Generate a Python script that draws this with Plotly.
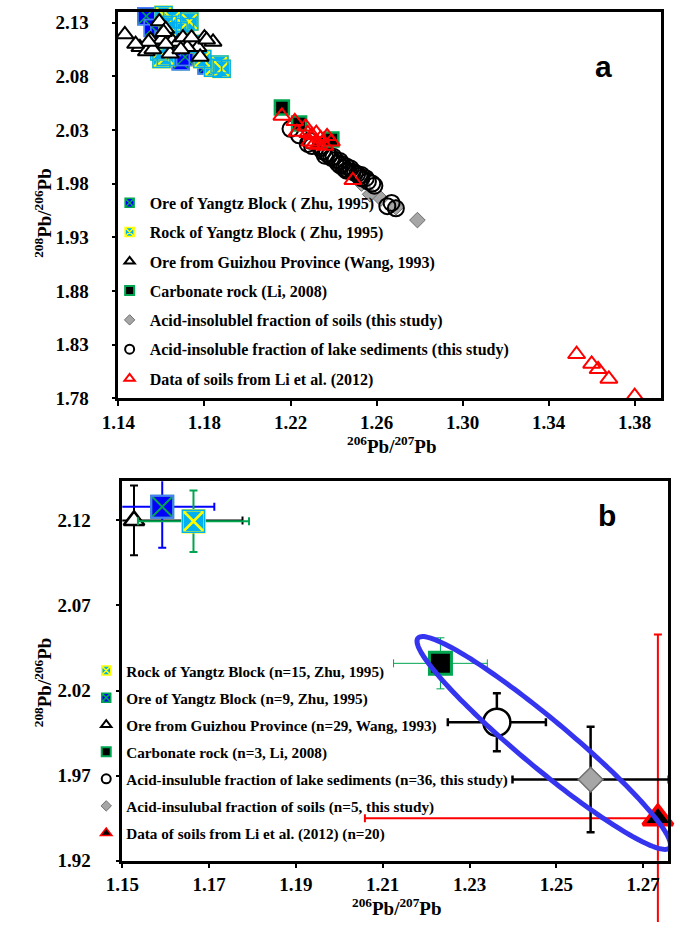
import numpy as np
import plotly.graph_objects as go

W, H = 680, 933

# ---------------- Panel a data ----------------
ore_yz_x = [1.153, 1.156, 1.159, 1.165, 1.169, 1.171, 1.181, 1.185, 1.161]
ore_yz_y = [2.136, 2.125, 2.119, 2.107, 2.094, 2.098, 2.090, 2.088, 2.114]
rock_yz_x = [1.161, 1.165, 1.171, 1.173, 1.168, 1.160, 1.162, 1.184, 1.187, 1.188, 1.163, 1.169, 1.175, 1.179, 1.159]
rock_yz_y = [2.137, 2.133, 2.126, 2.131, 2.122, 2.096, 2.098, 2.088, 2.091, 2.087, 2.128, 2.114, 2.110, 2.096, 2.103]
gz_x = [1.131, 1.143, 1.150, 1.153, 1.155, 1.159, 1.160, 1.162, 1.164, 1.165, 1.168, 1.175, 1.177,
        1.180, 1.184, 1.178, 1.156, 1.161, 1.172, 1.181, 1.170, 1.154, 1.162, 1.148, 1.169, 1.174]
gz_y = [2.121, 2.119, 2.107, 2.103, 2.114, 2.131, 2.114, 2.124, 2.101, 2.113, 2.112, 2.112, 2.107,
        2.116, 2.112, 2.098, 2.105, 2.121, 2.107, 2.114, 2.116, 2.112, 2.110, 2.110, 2.105, 2.116]
carb_x = [1.216, 1.224, 1.239]
carb_y = [2.051, 2.036, 2.021]
soil_x = [1.253, 1.257, 1.262, 1.269, 1.279]
soil_y = [1.980, 1.970, 1.966, 1.958, 1.946]
lake_x = [1.220, 1.224, 1.228, 1.230, 1.234, 1.235, 1.237, 1.238, 1.239, 1.240, 1.241, 1.242,
          1.243, 1.243, 1.244, 1.245, 1.246, 1.246, 1.247, 1.248, 1.249, 1.250, 1.251, 1.252,
          1.253, 1.253, 1.255, 1.256, 1.258, 1.259, 1.265, 1.269, 1.267, 1.234, 1.229, 1.236]
lake_y = [2.031, 2.025, 2.017, 2.015, 2.013, 2.010, 2.008, 2.006, 2.004, 2.005, 2.002, 1.999,
          2.001, 1.997, 1.998, 1.994, 1.996, 1.992, 1.992, 1.994, 1.991, 1.990, 1.989, 1.987,
          1.988, 1.985, 1.985, 1.982, 1.980, 1.978, 1.959, 1.957, 1.962, 2.015, 2.020, 2.006]
li_x = [1.216, 1.222, 1.223, 1.228, 1.230, 1.232, 1.229, 1.231, 1.233, 1.234, 1.236, 1.239,
        1.249, 1.227, 1.237, 1.353, 1.360, 1.363, 1.368, 1.380]
li_y = [2.043, 2.038, 2.028, 2.027, 2.025, 2.027, 2.019, 2.017, 2.016, 2.022, 2.015, 2.019,
        1.983, 2.033, 2.024, 1.821, 1.812, 1.807, 1.798, 1.782]

names_a = ["Ore of Yangtz Block ( Zhu, 1995)",
           "Rock of Yangtz Block ( Zhu, 1995)",
           "Ore from Guizhou Province (Wang, 1993)",
           "Carbonate rock (Li, 2008)",
           "Acid-insolublel fraction of soils (this study)",
           "Acid-insoluble fraction of lake sediments (this study)",
           "Data of soils from Li et al. (2012)"]
a_xticks = [1.14, 1.18, 1.22, 1.26, 1.30, 1.34, 1.38]
a_yticks = [1.78, 1.83, 1.88, 1.93, 1.98, 2.03, 2.08, 2.13]

# ---------------- Panel b data ----------------
names_b = ["Rock of Yangtz Block (n=15, Zhu, 1995)",
           "Ore of Yangtz Block (n=9, Zhu, 1995)",
           "Ore from Guizhou Province (n=29, Wang, 1993)",
           "Carbonate rock (n=3, Li, 2008)",
           "Acid-insuluble fraction of lake sediments (n=36, this study)",
           "Acid-insulubal fraction of soils (n=5, this study)",
           "Data of soils from Li et al. (2012) (n=20)"]
b_x = [1.1664, 1.1592, 1.1527, 1.2233, 1.2363, 1.2579, 1.2734]
b_y = [2.1195, 2.1280, 2.1200, 2.0360, 2.0014, 1.9677, 1.9450]
b_ex = [0.0128, 0.0120, 0.0250, 0.0108, 0.0113, 0.0180, 0.0675]
b_ey = [0.0180, 0.0240, 0.0205, 0.0150, 0.0170, 0.0310, 0.1080]
b_xticks = [1.15, 1.17, 1.19, 1.21, 1.23, 1.25, 1.27]
b_yticks = [1.92, 1.97, 2.02, 2.07, 2.12]

# ellipse (centre in data units, semi-axes in px, tilt in degrees)
ell_cx, ell_cy = 1.2471, 1.9892
ell_a, ell_b, ell_ang = 167, 24.5, 39.4

# ---------------- layout geometry ----------------
ax_a = dict(x=[104, 660], y=[12, 403], xr=[1.14, 1.392], yr=[1.78, 2.14])
ax_b = dict(x=[108, 668], y=[487, 871], xr=[1.15, 1.2758], yr=[1.92, 2.143])

BLUE = "#0000ff"; LBLUE = "#4d7cff"; GREEN = "#00a550"; CYAN = "#00b0f0"; YEL = "#ffff00"
GREY = "#a6a6a6"; DGREY = "#6f6f6f"; RED = "#ff0000"
SERIF = "Liberation Serif, Times New Roman, serif"

fig = go.Figure()

def legend_entry(name, marker, legend, g):
    fig.add_trace(go.Scatter(x=[None], y=[None], mode="markers", name="<b>%s</b>" % name,
                             marker=marker, legend=legend, legendgroup=g, showlegend=True,
                             xaxis="x" if legend == "legend" else "x2",
                             yaxis="y" if legend == "legend" else "y2"))

la = [dict(symbol="square-x", size=9, color=BLUE, line=dict(color=GREEN, width=1.5)),
      dict(symbol="square-x", size=9, color=CYAN, line=dict(color=YEL, width=1.5)),
      dict(symbol="triangle-up-open", size=9, color="black", line=dict(color="black", width=2)),
      dict(symbol="square", size=9, color="black", line=dict(color=GREEN, width=2)),
      dict(symbol="diamond", size=8, color=GREY, line=dict(color=DGREY, width=1)),
      dict(symbol="circle-open", size=9, color="black", line=dict(color="black", width=2)),
      dict(symbol="triangle-up-open", size=9, color=RED, line=dict(color=RED, width=2))]
for i, (n, m) in enumerate(zip(names_a, la)):
    legend_entry(n, m, "legend", "a%d" % i)

lb = [la[1], la[0], la[2], la[3],
      dict(symbol="circle-open", size=9, color="black", line=dict(color="black", width=2)),
      la[4],
      dict(symbol="triangle-up", size=10, color="black", line=dict(color=RED, width=1.5))]
for i, (n, m) in enumerate(zip(names_b, lb)):
    legend_entry(n, m, "legend2", "b%d" % i)

def sc(x, y, marker, xa="x", ya="y", **kw):
    fig.add_trace(go.Scatter(x=x, y=y, mode="markers", marker=marker, showlegend=False,
                             xaxis=xa, yaxis=ya, cliponaxis=False, hoverinfo="skip", **kw))

# ---------------- Panel a traces ----------------
sc(ore_yz_x, ore_yz_y, dict(symbol="square-x", size=17, color=BLUE, line=dict(color=GREEN, width=1.5)))
sc(ore_yz_x, ore_yz_y, dict(symbol="square-open", size=17, color=LBLUE, line=dict(color=LBLUE, width=1.5)))
sc(rock_yz_x, rock_yz_y, dict(symbol="square-x", size=17, color=CYAN, line=dict(color=YEL, width=2)))
sc(rock_yz_x, rock_yz_y, dict(symbol="square-open", size=17, color=CYAN, line=dict(color=CYAN, width=1.5)))
sc(gz_x, gz_y, dict(symbol="triangle-up", size=15, color="white", line=dict(color="black", width=2)))
sc(soil_x, soil_y, dict(symbol="diamond", size=12, color=GREY, line=dict(color=DGREY, width=1)))
sc(lake_x, lake_y, dict(symbol="circle-open", size=16, color="black", line=dict(color="black", width=2)))
sc(carb_x, carb_y, dict(symbol="square", size=14, color="black", line=dict(color=GREEN, width=2.5)))
sc(li_x, li_y, dict(symbol="triangle-up-open", size=15, color=RED, line=dict(color=RED, width=2)))

# ---------------- Panel b traces ----------------
def eb(arr, color, th):
    return dict(type="data", array=[arr], color=color, thickness=th, width=4, visible=True)

styles_b = [  # rock, ore, gz, carb, lake, soil, li
    (dict(symbol="square-x", size=22, color=CYAN, line=dict(color=YEL, width=2.5)), GREEN, 2),
    (dict(symbol="square-x", size=22, color=BLUE, line=dict(color=GREEN, width=2)), BLUE, 2),
    (dict(symbol="triangle-up", size=18, color="white", line=dict(color="black", width=2.5)), "black", 2),
    (dict(symbol="square", size=22, color="black", line=dict(color=GREEN, width=3)), GREEN, 1),
    (dict(symbol="circle", size=27, color="white", line=dict(color="black", width=2.5)), "black", 2.5),
    (dict(symbol="diamond", size=19, color=GREY, line=dict(color=DGREY, width=1.5)), "black", 2.5),
    (dict(symbol="triangle-up", size=26, color="black", line=dict(color=RED, width=3.5)), RED, 2),
]
order_b = [6, 5, 4, 3, 2, 1, 0]
for i in order_b:
    m, c, th = styles_b[i]
    sc([b_x[i]], [b_y[i]], m, xa="x2", ya="y2",
       error_x=eb(b_ex[i], c, th), error_y=eb(b_ey[i], c, th))
    if i == 1:
        sc([b_x[i]], [b_y[i]], dict(symbol="square-open", size=22, color=LBLUE,
                                    line=dict(color=LBLUE, width=2)), xa="x2", ya="y2")
    if i == 0:
        sc([b_x[i]], [b_y[i]], dict(symbol="square-open", size=22, color=CYAN,
                                    line=dict(color="#7fd8ff", width=1.5)), xa="x2", ya="y2")

# empty traces so the tick-only overlay axes exist
fig.add_trace(go.Scatter(x=[None], y=[None], xaxis="x", yaxis="y3", showlegend=False, hoverinfo="skip"))
fig.add_trace(go.Scatter(x=[None], y=[None], xaxis="x2", yaxis="y4", showlegend=False, hoverinfo="skip"))

# ellipse path
pxx = (ax_b["x"][1] - ax_b["x"][0]) / (ax_b["xr"][1] - ax_b["xr"][0])
pxy = (ax_b["y"][1] - ax_b["y"][0]) / (ax_b["yr"][1] - ax_b["yr"][0])
t = np.linspace(0, 2 * np.pi, 181)
th = np.deg2rad(-ell_ang)
dx = ell_a * np.cos(t) * np.cos(th) - ell_b * np.sin(t) * np.sin(th)
dy = ell_a * np.cos(t) * np.sin(th) + ell_b * np.sin(t) * np.cos(th)
ex = ell_cx + dx / pxx
ey = ell_cy + dy / pxy
path = "M " + " L ".join("%.5f,%.5f" % (a, b) for a, b in zip(ex, ey)) + " Z"

# the Li et al. lower error bar runs on below the x axis (as in the original figure)
li_low = b_y[6] - b_ey[6]
li_low_px = ax_b["y"][1] + (ax_b["yr"][0] - li_low) * pxy
li_low_paper = max(0.0, 1 - li_low_px / H)

TF = dict(family=SERIF, size=19, color="black")

def axis(dom, rng, ticks, anchor):
    return dict(domain=dom, range=rng, tickmode="array", tickvals=ticks,
                ticktext=["<b>%.2f</b>" % v for v in ticks], anchor=anchor,
                showline=True, linecolor="black", linewidth=2.5, mirror=True,
                ticks="outside", ticklen=5, tickwidth=2, tickcolor="black",
                showgrid=False, zeroline=False, tickfont=TF, fixedrange=True)

def yaxis_far(dom, rng, ticks, anchor, gap):
    d = axis(dom, rng, ticks, anchor)
    d.update(ticklen=gap, tickcolor="rgba(0,0,0,0)")
    return d

def tick_overlay(over, rng, ticks, anchor):
    return dict(overlaying=over, anchor=anchor, range=rng, tickmode="array", tickvals=ticks,
                ticks="outside", ticklen=5, tickwidth=2, tickcolor="black", side="left",
                showticklabels=False, showline=False, showgrid=False, zeroline=False,
                fixedrange=True)

def xd(a):
    return [a["x"][0] / W, a["x"][1] / W]

def yd(a):
    return [1 - a["y"][1] / H, 1 - a["y"][0] / H]

fig.update_layout(
    width=W, height=H, margin=dict(l=0, r=0, t=0, b=0),
    paper_bgcolor="white", plot_bgcolor="white",
    xaxis=axis(xd(ax_a), ax_a["xr"], a_xticks, "y"),
    yaxis=yaxis_far(yd(ax_a), ax_a["yr"], a_yticks, "x", 23),
    xaxis2=axis(xd(ax_b), ax_b["xr"], b_xticks, "y2"),
    yaxis2=yaxis_far(yd(ax_b), ax_b["yr"], b_yticks, "x2", 25),
    yaxis3=tick_overlay("y", ax_a["yr"], a_yticks, "x"),
    yaxis4=tick_overlay("y2", ax_b["yr"], b_yticks, "x2"),
    legend=dict(x=95 / W, y=1 - 188 / H, xanchor="left", yanchor="top",
                bgcolor="rgba(0,0,0,0)", font=dict(family=SERIF, size=16, color="black"),
                traceorder="grouped", tracegroupgap=5.5, itemwidth=30),
    legend2=dict(x=71 / W, y=1 - 662 / H, xanchor="left", yanchor="top",
                 bgcolor="rgba(0,0,0,0)", font=dict(family=SERIF, size=15.2, color="black"),
                 traceorder="grouped", tracegroupgap=4.3, itemwidth=30),
    shapes=[dict(type="path", path=path, xref="x2", yref="y2",
                 line=dict(color="#3535f0", width=5), layer="above"),
            dict(type="line", xref="x2", yref="paper", x0=b_x[6], x1=b_x[6],
                 y0=yd(ax_b)[0], y1=li_low_paper, line=dict(color=RED, width=2), layer="below")],
    showlegend=True,
)

TT = dict(family=SERIF, size=19, color="black")
ann = [
    dict(text="<b><sup>206</sup>Pb/<sup>207</sup>Pb</b>", x=385 / W, y=1 - 450 / H),
    dict(text="<b><sup>206</sup>Pb/<sup>207</sup>Pb</b>", x=390 / W, y=1 - 918 / H),
    dict(text="<b><sup>208</sup>Pb/<sup>206</sup>Pb</b>", x=27 / W, y=1 - 215 / H, textangle=-90),
    dict(text="<b><sup>208</sup>Pb/<sup>206</sup>Pb</b>", x=27 / W, y=1 - 690 / H, textangle=-90),
]
for a in ann:
    fig.add_annotation(xref="paper", yref="paper", showarrow=False, font=TT,
                       xanchor="center", yanchor="middle", **a)
fig.add_annotation(text="<b>a</b>", x=602 / W, y=1 - 67 / H, xref="paper", yref="paper",
                   xanchor="center", yanchor="middle", showarrow=False,
                   font=dict(family="Liberation Sans, Arial, sans-serif", size=30, color="black"))
fig.add_annotation(text="<b>b</b>", x=605 / W, y=1 - 522 / H, xref="paper", yref="paper",
                   xanchor="center", yanchor="middle", showarrow=False,
                   font=dict(family="Liberation Sans, Arial, sans-serif", size=30, color="black"))

fig.write_html("out.html")
